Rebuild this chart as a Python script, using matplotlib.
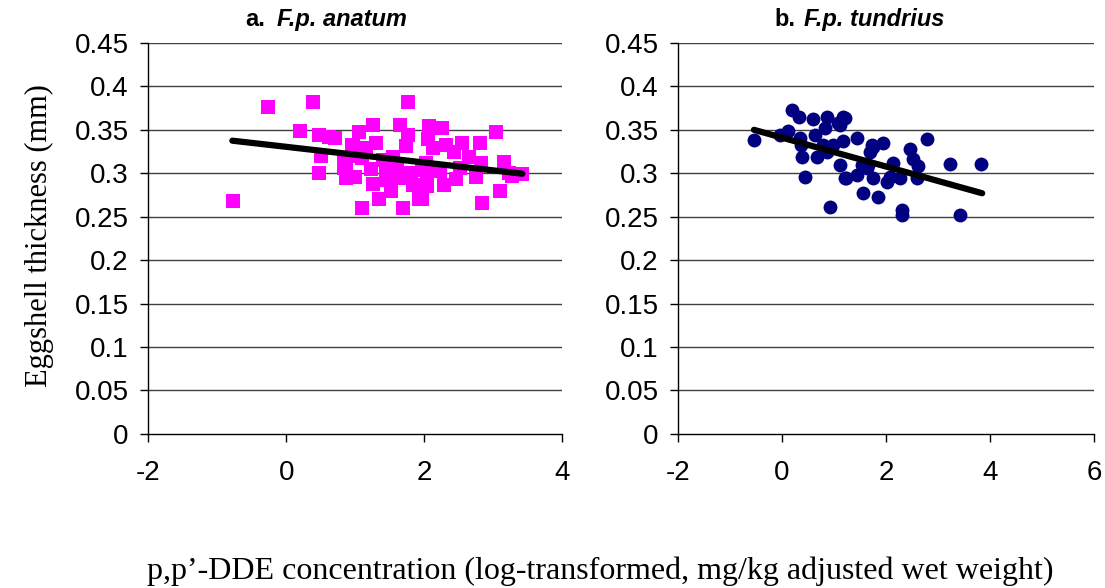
import numpy as np
import matplotlib
matplotlib.use('Agg')
from matplotlib import pyplot as plt

# panel a: F.p. anatum (squares)
anatum_x = [-0.77, -0.27, 0.20, 0.39, 0.48, 0.62, 0.70, 0.51, 0.48, 0.83, 0.83, 0.96,
            1.77, 1.26, 1.65, 1.06, 1.77, 0.97, 1.30, 1.73, 1.16, 0.87, 0.87, 0.99,
            1.23, 1.26, 1.45, 1.52, 1.35, 1.10, 1.69, 1.84, 1.93, 1.64, 1.97, 1.54,
            2.07, 2.26, 3.04, 2.05, 2.32, 2.55, 2.80, 2.12, 2.43, 2.65, 2.82, 3.16,
            3.23, 3.27, 3.42, 3.10, 2.83, 2.04, 2.04, 2.28, 2.46, 2.75, 2.51, 2.22,
            2.03, 1.97, 1.40, 1.10, 1.60, 1.80, 1.45, 1.00]
anatum_y = [0.268, 0.376, 0.349, 0.382, 0.344, 0.342, 0.341, 0.320, 0.300, 0.313, 0.306, 0.333,
            0.382, 0.356, 0.356, 0.347, 0.344, 0.333, 0.335, 0.331, 0.329, 0.310, 0.295, 0.296,
            0.305, 0.288, 0.300, 0.280, 0.270, 0.260, 0.260, 0.286, 0.270, 0.295, 0.304, 0.319,
            0.354, 0.352, 0.347, 0.339, 0.332, 0.335, 0.335, 0.329, 0.325, 0.319, 0.312, 0.313,
            0.300, 0.297, 0.299, 0.280, 0.266, 0.296, 0.285, 0.287, 0.293, 0.296, 0.306, 0.303,
            0.312, 0.270, 0.315, 0.318, 0.310, 0.300, 0.292, 0.320]
anatum_line_x = [-0.78, 3.42]
anatum_line_y = [0.3375, 0.2995]

# panel b: F.p. tundrius (circles)
tundrius_x = [-0.54, 0.19, 0.32, 0.60, 0.87, 1.08, 1.18, 0.83, -0.04, 0.12, 0.35, 0.63,
              0.38, 0.67, 0.44, 0.92, 0.79, 0.37, 1.18, 1.44, 1.75, 1.95, 1.12, 1.24,
              1.44, 1.56, 1.85, 2.01, 2.14, 1.66, 1.75, 2.79, 3.23, 3.83, 2.46, 2.52,
              2.62, 2.59, 2.27, 1.73, 2.31, 2.31, 3.43, 1.21, 1.12, 0.98, 0.87, 1.21,
              1.63, 1.69, 2.08, 1.54]
tundrius_y = [0.338, 0.373, 0.365, 0.362, 0.365, 0.358, 0.365, 0.352, 0.344, 0.349, 0.341, 0.344,
              0.319, 0.319, 0.296, 0.261, 0.333, 0.333, 0.337, 0.341, 0.330, 0.335, 0.310, 0.295,
              0.298, 0.277, 0.273, 0.290, 0.312, 0.310, 0.295, 0.340, 0.311, 0.311, 0.328, 0.316,
              0.308, 0.295, 0.295, 0.333, 0.258, 0.252, 0.252, 0.364, 0.356, 0.333, 0.325, 0.294,
              0.306, 0.325, 0.296, 0.310]
tundrius_line_x = [-0.54, 3.85]
tundrius_line_y = [0.350, 0.277]

yticks = [0, 0.05, 0.1, 0.15, 0.2, 0.25, 0.3, 0.35, 0.4, 0.45]
ytick_labels = ['0', '0.05', '0.1', '0.15', '0.2', '0.25', '0.3', '0.35', '0.4', '0.45']

plt.rcParams['font.family'] = ['Liberation Sans', 'DejaVu Sans']

fig = plt.figure(figsize=(11.05, 5.88), dpi=100)
ax1 = fig.add_axes([0.134, 0.262, 0.375, 0.665])
ax2 = fig.add_axes([0.6136, 0.262, 0.3764, 0.665])


def style_axis(ax, xlim, xticks):
    ax.set_xlim(*xlim)
    ax.set_ylim(0, 0.45)
    ax.set_yticks(yticks)
    ax.set_yticklabels(ytick_labels)
    ax.set_xticks(xticks)
    ax.set_xticklabels([str(t) for t in xticks])
    for y in yticks[1:]:
        ax.axhline(y, color='#404040', lw=1.0, zorder=0)
    ax.spines['top'].set_visible(False)
    ax.spines['right'].set_visible(False)
    ax.spines['left'].set_color('black')
    ax.spines['bottom'].set_color('black')
    ax.spines['left'].set_linewidth(1.0)
    ax.spines['bottom'].set_linewidth(1.0)
    ax.tick_params(axis='both', direction='out', length=6, width=1.0, labelsize=20, colors='black')
    ax.tick_params(axis='y', pad=8)
    ax.tick_params(axis='x', pad=13)


ax1.scatter(anatum_x, anatum_y, marker='s', s=100, color='#FF00FF', linewidths=0, zorder=2)
ax1.plot(anatum_line_x, anatum_line_y, color='black', lw=4.5, solid_capstyle='round', zorder=3)
style_axis(ax1, (-2, 4), [-2, 0, 2, 4])

ax2.scatter(tundrius_x, tundrius_y, marker='o', s=100, color='#000080', linewidths=0, zorder=2)
ax2.plot(tundrius_line_x, tundrius_line_y, color='black', lw=4.5, solid_capstyle='round', zorder=3)
style_axis(ax2, (-2, 6), [-2, 0, 2, 4, 6])

# panel titles
fig.text(0.222, 0.955, 'a.', fontsize=17, fontweight='bold', ha='left', va='baseline')
fig.text(0.2505, 0.955, 'F.p. anatum', fontsize=17, fontweight='bold', style='italic',
         ha='left', va='baseline')
fig.text(0.701, 0.955, 'b.', fontsize=17, fontweight='bold', ha='left', va='baseline')
fig.text(0.7275, 0.955, 'F.p. tundrius', fontsize=17, fontweight='bold', style='italic',
         ha='left', va='baseline')

fig.text(0.036, 0.60, 'Eggshell thickness (mm)', rotation=90, ha='center', va='center',
         fontsize=22, family=['Liberation Serif', 'DejaVu Serif'])
fig.text(0.543, 0.029, 'p,p\u2019-DDE concentration (log-transformed, mg/kg adjusted wet weight)',
         ha='center', va='center', fontsize=23, family=['Liberation Serif', 'DejaVu Serif'])

fig.savefig('out.png', dpi=100)
